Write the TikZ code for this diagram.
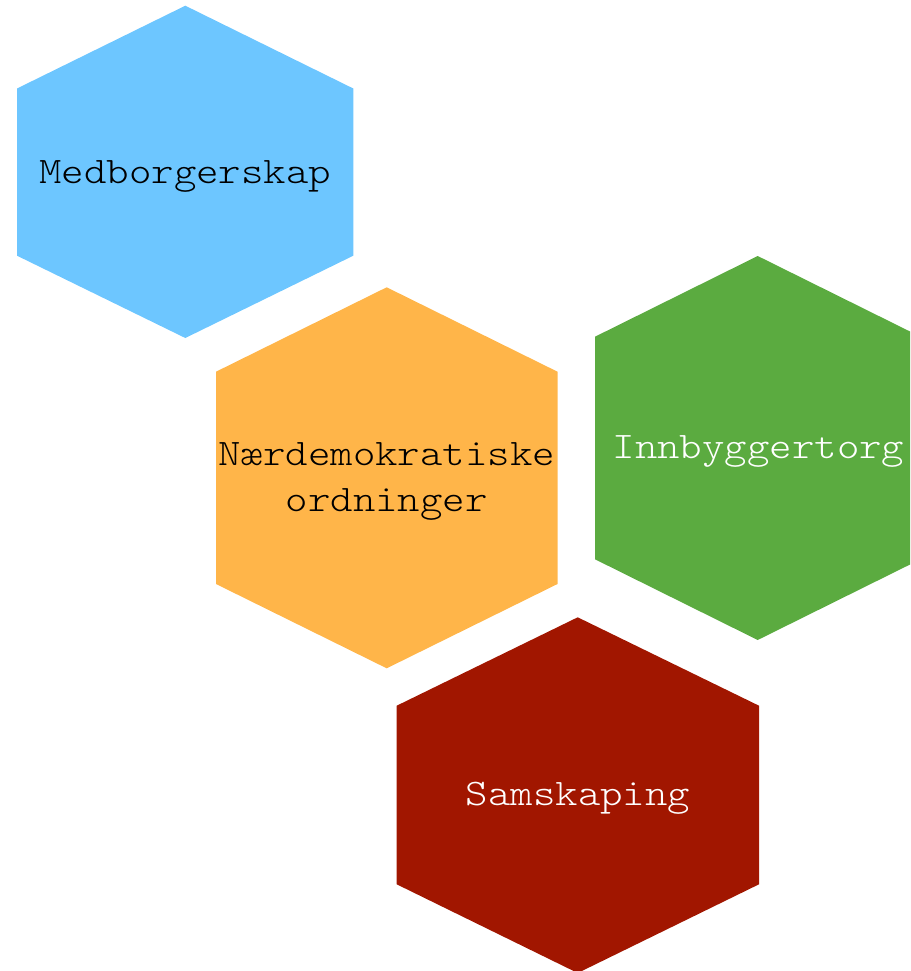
\documentclass[tikz,border=0pt]{standalone}
\usepackage{fontspec}
\setmonofont{Latin Modern Mono Light}[FakeStretch=1.14]
\definecolor{hexblue}{RGB}{109,198,255}
\definecolor{hexorange}{RGB}{255,181,73}
\definecolor{hexgreen}{RGB}{91,171,64}
\definecolor{hexred}{RGB}{161,22,0}
\begin{document}
\begin{tikzpicture}[x=1pt,y=-1pt,
  hexlabel/.style={font=\ttfamily\fontsize{37.5}{46}\selectfont, align=center, inner sep=0pt}]
\useasboundingbox (0,0) rectangle (910,971);
\clip (0,0) rectangle (910,971);
% blue
\fill[hexblue] (185.3,5.7) -- (353.3,88.5) -- (353.3,255.7) -- (185.3,338) -- (17,255.7) -- (17,88.5) -- cycle;
% orange
\fill[hexorange] (386.7,287.3) -- (557.5,371.7) -- (557.5,584) -- (386.7,668.3) -- (216,584) -- (216,371.7) -- cycle;
% green
\fill[hexgreen] (757.7,256) -- (920.5,336.7) -- (920.5,559.3) -- (757.7,640) -- (595,559.3) -- (595,336.7) -- cycle;
% red
\fill[hexred] (577.7,617.3) -- (759,705.7) -- (759,884.3) -- (577.7,973) -- (396.7,884.3) -- (396.7,705.7) -- cycle;
\node[hexlabel, text=black, anchor=base] (med) at (185.3,183.3) {Medborgerskap};
\node[hexlabel, text=black] (naer) at (386.7,481) {Nærdemokratiske\\ordninger};
\node[hexlabel, text=white, anchor=base] (inn) at (758.5,458) {Innbyggertorg};
\node[hexlabel, text=white, anchor=base] (sam) at (578,805) {Samskaping};
\end{tikzpicture}
\end{document}
